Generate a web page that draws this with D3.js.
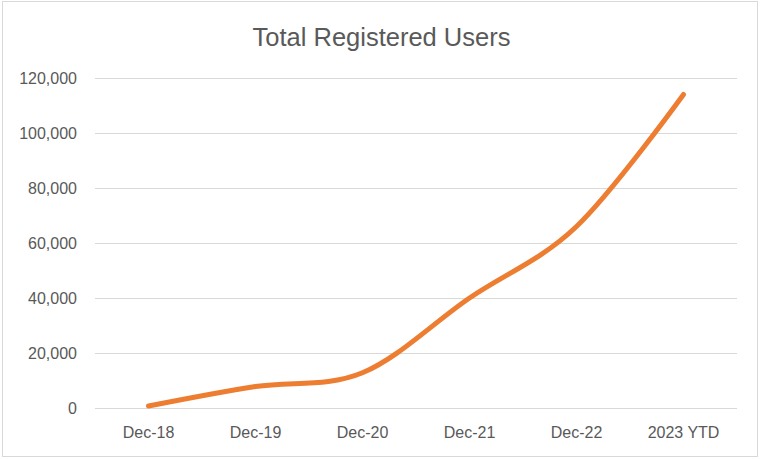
<!DOCTYPE html>
<html>
<head>
<meta charset="utf-8">
<script src="https://cdn.jsdelivr.net/npm/d3@7"></script>
<style>
  body { margin: 0; background: #fff; }
  text { font-family: "Liberation Sans", Arial, sans-serif; fill: #595959; }
</style>
</head>
<body>
<div class="canvas"></div>
<script>
// Data
const categories = ['Dec-18', 'Dec-19', 'Dec-20', 'Dec-21', 'Dec-22', '2023 YTD']
const users = [700, 7800, 12800, 40000, 66000, 114000]
const yTicks = [0, 20000, 40000, 60000, 80000, 100000, 120000]

const width = 760
const height = 459

// Select the svg container first
const svg = d3.select('.canvas')
  .append('svg')
    .attr('width', width)
    .attr('height', height)

// Chart area border
svg.append('rect')
  .attr('x', 2.5)
  .attr('y', 1.5)
  .attr('width', 755)
  .attr('height', 455)
  .attr('fill', '#fff')
  .attr('stroke', '#d9d9d9')

// Margins for the plot area
const margin = {top: 78, right: 23, bottom: 51, left: 95}
const graphWidth = width - margin.left - margin.right
const graphHeight = height - margin.top - margin.bottom

const graph = svg.append('g')
  .attr('transform', `translate(${margin.left},${margin.top})`)

// Scales
const x = d3.scaleBand()
  .domain(categories)
  .range([0, graphWidth])

const y = d3.scaleLinear()
  .domain([0, 120000])
  .range([graphHeight, 0])

// Gridlines
graph.append('g')
  .selectAll('line')
  .data(yTicks)
  .join('line')
    .attr('x1', 0)
    .attr('x2', graphWidth)
    .attr('y1', d => Math.round(y(d)) + 0.5)
    .attr('y2', d => Math.round(y(d)) + 0.5)
    .attr('stroke', '#d9d9d9')
    .attr('stroke-width', 1)

// Y axis labels
const yAxis = d3.axisLeft(y)
  .tickValues(yTicks)
  .tickSize(0)
  .tickPadding(18)
  .tickFormat(d3.format(','))

const yAxisGroup = graph.append('g').call(yAxis)
yAxisGroup.select('.domain').remove()
yAxisGroup.selectAll('text')
  .attr('font-family', '"Liberation Sans", Arial, sans-serif')
  .attr('font-size', 16)
  .attr('fill', '#595959')

// X axis labels
const xAxis = d3.axisBottom(x)
  .tickSize(0)
  .tickPadding(18.5)

const xAxisGroup = graph.append('g')
  .attr('transform', `translate(0, ${graphHeight})`)
  .call(xAxis)
xAxisGroup.select('.domain').remove()
xAxisGroup.selectAll('text')
  .attr('font-family', '"Liberation Sans", Arial, sans-serif')
  .attr('font-size', 16)
  .attr('fill', '#595959')

// Smoothed line
const line = d3.line()
  .x((d, i) => x(categories[i]) + x.bandwidth() / 2)
  .y(d => y(d))
  .curve(d3.curveCardinal.tension(0))

graph.append('path')
  .datum(users)
  .attr('d', line)
  .attr('fill', 'none')
  .attr('stroke', '#ED7D31')
  .attr('stroke-width', 5)
  .attr('stroke-linecap', 'round')
  .attr('stroke-linejoin', 'round')

// Title
svg.append('text')
  .attr('x', 381.5)
  .attr('y', 45.5)
  .attr('text-anchor', 'middle')
  .attr('font-size', 25.5)
  .attr('fill', '#595959')
  .text('Total Registered Users')
</script>
</body>
</html>
